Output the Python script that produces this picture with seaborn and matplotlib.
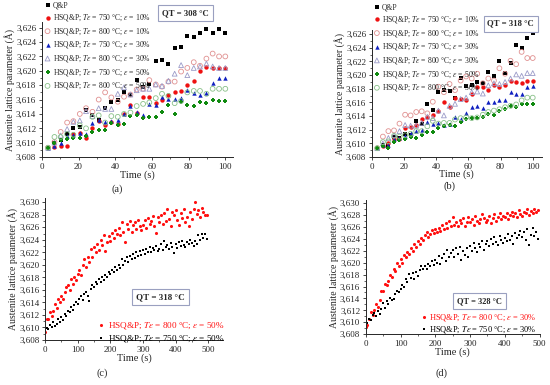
import numpy as np
import matplotlib
matplotlib.use("Agg")
import matplotlib.pyplot as plt
import seaborn as sns
from matplotlib.ticker import FuncFormatter, MultipleLocator

# ---------------- data: panels (a) and (b), time in s ----------------
t_ab = [3.4, 6.9, 10.3, 13.8, 17.2, 20.7, 24.1, 27.6, 31.0, 34.5, 37.9, 41.4, 44.8, 48.3,
        51.7, 55.2, 58.6, 62.1, 65.5, 69.0, 72.4, 75.9, 79.3, 82.8, 86.2, 89.7, 93.1, 96.6, 100.0]

a_qp = [3.6093, 3.6099, 3.6104, 3.6112, 3.6120, 3.6122, 3.6146, 3.6138, 3.6131, 3.6148,
        3.6157, 3.6159, 3.6171, 3.6166, 3.6187, 3.6177, 3.6182, 3.6213, 3.6215, 3.6210,
        3.6232, 3.6233, 3.6248, 3.6247, 3.6253, 3.6258, 3.6252, 3.6258, 3.6252]
a_750_10 = [3.6093, 3.6094, 3.6095, 3.6095, 3.6112, 3.6113, 3.6107, 3.6121, 3.6130, 3.6124,
            3.6129, 3.6126, 3.6140, 3.6152, 3.6142, 3.6164, 3.6164, 3.6155, 3.6160, 3.6167,
            3.6171, 3.6172, 3.6180, 3.6186, 3.6200, 3.6205, 3.6204, 3.6204, 3.6204]
a_800_10 = [3.6093, 3.6101, 3.6115, 3.6128, 3.6130, 3.6140, 3.6148, 3.6143, 3.6160, 3.6170,
            3.6163, 3.6157, 3.6164, 3.6167, 3.6174, 3.6175, 3.6187, 3.6181, 3.6178, 3.6185,
            3.6185, 3.6199, 3.6204, 3.6212, 3.6207, 3.6217, 3.6224, 3.6220, 3.6220]
a_750_30 = [3.6093, 3.6095, 3.6100, 3.6110, 3.6111, 3.6114, 3.6112, 3.6128, 3.6131, 3.6129,
            3.6130, 3.6131, 3.6140, 3.6151, 3.6143, 3.6138, 3.6154, 3.6153, 3.6164, 3.6161,
            3.6161, 3.6162, 3.6174, 3.6169, 3.6166, 3.6169, 3.6183, 3.6190, 3.6190]
a_800_30 = [3.6093, 3.6100, 3.6110, 3.6119, 3.6129, 3.6131, 3.6144, 3.6137, 3.6148, 3.6147,
            3.6147, 3.6168, 3.6177, 3.6167, 3.6173, 3.6175, 3.6175, 3.6181, 3.6179, 3.6186,
            3.6196, 3.6208, 3.6194, 3.6204, 3.6206, 3.6210, 3.6206, 3.6204, 3.6204]
a_750_50 = [3.6093, 3.6100, 3.6104, 3.6105, 3.6106, 3.6106, 3.6109, 3.6115, 3.6117, 3.6118,
            3.6128, 3.6125, 3.6126, 3.6137, 3.6138, 3.6134, 3.6136, 3.6136, 3.6143, 3.6152,
            3.6140, 3.6156, 3.6153, 3.6151, 3.6157, 3.6155, 3.6160, 3.6158, 3.6158]
a_800_50 = [3.6093, 3.6108, 3.6108, 3.6112, 3.6111, 3.6124, 3.6120, 3.6136, 3.6138, 3.6128,
            3.6137, 3.6136, 3.6140, 3.6142, 3.6151, 3.6154, 3.6156, 3.6162, 3.6168, 3.6165,
            3.6155, 3.6158, 3.6170, 3.6172, 3.6172, 3.6168, 3.6175, 3.6175, 3.6175]

b_qp = [3.6093, 3.6098, 3.6098, 3.6109, 3.6108, 3.6114, 3.6112, 3.6133, 3.6129, 3.6157,
        3.6149, 3.6176, 3.6178, 3.6177, 3.6166, 3.6196, 3.6184, 3.6185, 3.6190, 3.6188,
        3.6204, 3.6198, 3.6220, 3.6203, 3.6218, 3.6244, 3.6239, 3.6255, 3.6261]
b_750_10 = [3.6093, 3.6096, 3.6100, 3.6107, 3.6107, 3.6122, 3.6124, 3.6127, 3.6136, 3.6138,
            3.6141, 3.6148, 3.6160, 3.6153, 3.6167, 3.6165, 3.6163, 3.6172, 3.6182, 3.6182,
            3.6178, 3.6185, 3.6183, 3.6185, 3.6192, 3.6190, 3.6188, 3.6192, 3.6192]
b_800_10 = [3.6093, 3.6110, 3.6118, 3.6119, 3.6129, 3.6142, 3.6141, 3.6146, 3.6147, 3.6144,
            3.6161, 3.6183, 3.6175, 3.6187, 3.6178, 3.6192, 3.6198, 3.6195, 3.6202, 3.6188,
            3.6195, 3.6192, 3.6210, 3.6202, 3.6221, 3.6216, 3.6234, 3.6225, 3.6225]
b_750_30 = [3.6093, 3.6097, 3.6098, 3.6106, 3.6108, 3.6111, 3.6115, 3.6118, 3.6119, 3.6132,
            3.6128, 3.6130, 3.6127, 3.6128, 3.6138, 3.6136, 3.6145, 3.6153, 3.6155, 3.6152,
            3.6160, 3.6161, 3.6164, 3.6164, 3.6175, 3.6172, 3.6172, 3.6183, 3.6184]
b_800_30 = [3.6093, 3.6100, 3.6108, 3.6112, 3.6118, 3.6127, 3.6126, 3.6126, 3.6130, 3.6139,
            3.6137, 3.6148, 3.6141, 3.6155, 3.6158, 3.6165, 3.6167, 3.6175, 3.6176, 3.6173,
            3.6185, 3.6188, 3.6187, 3.6190, 3.6195, 3.6201, 3.6199, 3.6203, 3.6203]
b_750_50 = [3.6093, 3.6096, 3.6094, 3.6102, 3.6105, 3.6106, 3.6110, 3.6108, 3.6112, 3.6116,
            3.6117, 3.6122, 3.6126, 3.6127, 3.6126, 3.6131, 3.6136, 3.6137, 3.6137, 3.6138,
            3.6143, 3.6142, 3.6148, 3.6151, 3.6155, 3.6154, 3.6157, 3.6157, 3.6157]
b_800_50 = [3.6093, 3.6102, 3.6103, 3.6111, 3.6110, 3.6112, 3.6114, 3.6118, 3.6118, 3.6125,
            3.6133, 3.6129, 3.6130, 3.6130, 3.6135, 3.6137, 3.6138, 3.6137, 3.6138, 3.6142,
            3.6146, 3.6148, 3.6150, 3.6153, 3.6155, 3.6157, 3.6163, 3.6167, 3.6167]

# ---------------- data: panels (c) and (d), sampled every 5 s ----------------
t_cd = np.arange(0, 500, 5)

c_800_50 = [3.6092, 3.6114, 3.6113, 3.6125, 3.6118, 3.6126, 3.6137, 3.6131, 3.6146, 3.6140,
            3.6150, 3.6145, 3.6157, 3.6165, 3.6168, 3.6160, 3.6178, 3.6169, 3.6181, 3.6176,
            3.6186, 3.6192, 3.6184, 3.6199, 3.6210, 3.6196, 3.6213, 3.6205, 3.6226, 3.6212,
            3.6228, 3.6220, 3.6233, 3.6224, 3.6240, 3.6231, 3.6248, 3.6222, 3.6237, 3.6246,
            3.6238, 3.6251, 3.6243, 3.6255, 3.6249, 3.6259, 3.6247, 3.6268, 3.6252, 3.6236,
            3.6266, 3.6258, 3.6270, 3.6253, 3.6263, 3.6268, 3.6257, 3.6271, 3.6262, 3.6256,
            3.6264, 3.6272, 3.6259, 3.6275, 3.6266, 3.6270, 3.6278, 3.6262, 3.6251, 3.6276,
            3.6269, 3.6280, 3.6266, 3.6283, 3.6270, 3.6290, 3.6274, 3.6262, 3.6285, 3.6279,
            3.6288, 3.6271, 3.6264, 3.6283, 3.6275, 3.6289, 3.6268, 3.6276, 3.6262, 3.6285,
            3.6274, 3.6290, 3.6300, 3.6281, 3.6287, 3.6276, 3.6291, 3.6285, 3.6280, 3.6279]
c_750_50 = [3.6094, 3.6099, 3.6097, 3.6104, 3.6101, 3.6109, 3.6103, 3.6106, 3.6114, 3.6109,
            3.6117, 3.6112, 3.6122, 3.6118, 3.6127, 3.6124, 3.6133, 3.6128, 3.6136, 3.6140,
            3.6138, 3.6146, 3.6150, 3.6144, 3.6153, 3.6157, 3.6151, 3.6142, 3.6161, 3.6168,
            3.6164, 3.6173, 3.6170, 3.6177, 3.6172, 3.6180, 3.6176, 3.6184, 3.6180, 3.6188,
            3.6185, 3.6192, 3.6188, 3.6196, 3.6191, 3.6200, 3.6195, 3.6210, 3.6200, 3.6206,
            3.6212, 3.6205, 3.6214, 3.6209, 3.6218, 3.6211, 3.6220, 3.6214, 3.6222, 3.6216,
            3.6223, 3.6218, 3.6225, 3.6221, 3.6228, 3.6220, 3.6227, 3.6223, 3.6230, 3.6222,
            3.6226, 3.6233, 3.6224, 3.6238, 3.6228, 3.6232, 3.6226, 3.6235, 3.6229, 3.6219,
            3.6233, 3.6227, 3.6236, 3.6230, 3.6238, 3.6232, 3.6229, 3.6237, 3.6233, 3.6240,
            3.6235, 3.6230, 3.6238, 3.6233, 3.6247, 3.6240, 3.6249, 3.6243, 3.6250, 3.6241]

d_800_30 = [3.6092, 3.6096, 3.6106, 3.6118, 3.6113, 3.6120, 3.6131, 3.6125, 3.6137, 3.6152,
            3.6153, 3.6165, 3.6162, 3.6170, 3.6180, 3.6176, 3.6190, 3.6186, 3.6200, 3.6195,
            3.6207, 3.6200, 3.6213, 3.6209, 3.6218, 3.6214, 3.6224, 3.6219, 3.6231, 3.6226,
            3.6237, 3.6231, 3.6242, 3.6238, 3.6246, 3.6252, 3.6244, 3.6249, 3.6255, 3.6250,
            3.6257, 3.6251, 3.6259, 3.6254, 3.6263, 3.6256, 3.6266, 3.6259, 3.6270, 3.6262,
            3.6277, 3.6263, 3.6268, 3.6261, 3.6272, 3.6266, 3.6275, 3.6262, 3.6269, 3.6276,
            3.6268, 3.6274, 3.6263, 3.6279, 3.6270, 3.6266, 3.6273, 3.6281, 3.6275, 3.6268,
            3.6272, 3.6278, 3.6266, 3.6275, 3.6281, 3.6270, 3.6277, 3.6284, 3.6273, 3.6279,
            3.6276, 3.6283, 3.6274, 3.6280, 3.6286, 3.6278, 3.6284, 3.6276, 3.6289, 3.6281,
            3.6279, 3.6286, 3.6283, 3.6290, 3.6280, 3.6287, 3.6283, 3.6291, 3.6285, 3.6288]
d_750_30 = [3.6093, 3.6099, 3.6105, 3.6103, 3.6112, 3.6116, 3.6110, 3.6119, 3.6114, 3.6122,
            3.6132, 3.6124, 3.6136, 3.6131, 3.6140, 3.6137, 3.6139, 3.6147, 3.6153, 3.6150,
            3.6156, 3.6163, 3.6160, 3.6173, 3.6168, 3.6181, 3.6174, 3.6183, 3.6172, 3.6185,
            3.6178, 3.6188, 3.6194, 3.6190, 3.6195, 3.6189, 3.6198, 3.6194, 3.6203, 3.6197,
            3.6205, 3.6200, 3.6212, 3.6198, 3.6208, 3.6215, 3.6203, 3.6222, 3.6210, 3.6217,
            3.6221, 3.6209, 3.6224, 3.6215, 3.6226, 3.6205, 3.6220, 3.6213, 3.6225, 3.6210,
            3.6228, 3.6220, 3.6233, 3.6224, 3.6218, 3.6231, 3.6226, 3.6237, 3.6222, 3.6232,
            3.6236, 3.6228, 3.6240, 3.6231, 3.6243, 3.6235, 3.6229, 3.6245, 3.6238, 3.6233,
            3.6242, 3.6236, 3.6248, 3.6239, 3.6245, 3.6232, 3.6250, 3.6241, 3.6247, 3.6253,
            3.6244, 3.6251, 3.6238, 3.6256, 3.6230, 3.6247, 3.6259, 3.6245, 3.6252, 3.6240]

ylab = "Austenite lattice parameter (Å)"

# label text and style for the seven series in (a)/(b)
ab_labels = ["Q&P",
             r"HSQ&P; $T\varepsilon$ = 750 °C; $\varepsilon$ = 10%",
             r"HSQ&P; $T\varepsilon$ = 800 °C; $\varepsilon$ = 10%",
             r"HSQ&P; $T\varepsilon$ = 750 °C; $\varepsilon$ = 30%",
             r"HSQ&P; $T\varepsilon$ = 800 °C; $\varepsilon$ = 30%",
             r"HSQ&P; $T\varepsilon$ = 750 °C; $\varepsilon$ = 50%",
             r"HSQ&P; $T\varepsilon$ = 800 °C; $\varepsilon$ = 50%"]
ab_colors = ["black", "#ee1111", "#e09090", "#1020c0", "#9a9ac8", "#108a10", "#88c088"]
ab_markers = ["s", "o", "o", "^", "^", "P", "o"]
ab_filled = [True, True, False, True, False, True, False]

sns.set_style("ticks")
plt.rcParams["font.family"] = ["Liberation Serif", "DejaVu Serif"]
plt.rcParams["mathtext.fontset"] = "stix"

fig = plt.figure(figsize=(5.5, 3.85), dpi=100)
ax_a = fig.add_axes([0.076, 0.592, 0.347, 0.351])
ax_b = fig.add_axes([0.676, 0.592, 0.309, 0.330])
ax_c = fig.add_axes([0.082, 0.117, 0.324, 0.369])
ax_d = fig.add_axes([0.665, 0.132, 0.316, 0.348])

comma = FuncFormatter(lambda v, _: f"{v:.3f}".replace(".", ","))


def style_axes(ax, xmax, ymax, xmaj, xmin, xpad=0):
    sns.despine(ax=ax)
    ax.set_xlim(0, xmax)
    ax.set_ylim(3.608, ymax)
    ax.xaxis.set_major_locator(MultipleLocator(xmaj))
    ax.xaxis.set_minor_locator(MultipleLocator(xmin))
    ax.yaxis.set_major_locator(MultipleLocator(0.002))
    ax.yaxis.set_minor_locator(MultipleLocator(0.001))
    ax.yaxis.set_major_formatter(comma)
    ax.tick_params(which="major", length=2.5, width=0.6, labelsize=6.5, pad=1.5)
    ax.tick_params(which="minor", length=1.5, width=0.5)
    for s in ["left", "bottom"]:
        ax.spines[s].set_linewidth(0.7)
    ax.set_xlabel("Time (s)", fontsize=7.5, labelpad=xpad)
    ax.set_ylabel(ylab, fontsize=7, labelpad=1)


# panels (a) and (b)
for ax, series in [(ax_a, [a_qp, a_750_10, a_800_10, a_750_30, a_800_30, a_750_50, a_800_50]),
                   (ax_b, [b_qp, b_750_10, b_800_10, b_750_30, b_800_30, b_750_50, b_800_50])]:
    for vals, lab, col, mk, filled in zip(series, ab_labels, ab_colors, ab_markers, ab_filled):
        if filled:
            sns.scatterplot(x=t_ab, y=vals, ax=ax, marker=mk, color=col, s=10,
                            linewidth=0, label=lab)
        else:
            sns.scatterplot(x=t_ab, y=vals, ax=ax, marker=mk, facecolor="none",
                            edgecolor=col, s=12, linewidth=0.6, label=lab)

style_axes(ax_a, 104, 3.6268, 20, 10, xpad=-0.5)
style_axes(ax_b, 105.6, 3.6266, 20, 10, xpad=-1.0)

ax_a.legend(loc="upper left", bbox_to_anchor=(-0.01, 1.175), frameon=False, fontsize=5.5,
            labelspacing=0.35, handletextpad=0.1, borderaxespad=0, handlelength=1.2)
ax_b.legend(loc="upper left", bbox_to_anchor=(-0.015, 1.235), frameon=False, fontsize=5.5,
            labelspacing=0.35, handletextpad=0.1, borderaxespad=0, handlelength=1.2)

# panels (c) and (d)
sns.scatterplot(x=t_cd, y=c_800_50, ax=ax_c, marker="o", color="#ff1010", s=5, linewidth=0,
                label=r"HSQ&P; $T\varepsilon$ = 800 °C; $\varepsilon$ = 50%")
sns.scatterplot(x=t_cd, y=c_750_50, ax=ax_c, marker="s", color="black", s=4, linewidth=0,
                label=r"HSQ&P; $T\varepsilon$ = 750 °C; $\varepsilon$ = 50%")
sns.scatterplot(x=t_cd, y=d_800_30, ax=ax_d, marker="o", color="#ff1010", s=5, linewidth=0,
                label=r"HSQ&P; $T\varepsilon$ = 800 °C; $\varepsilon$ = 30%")
sns.scatterplot(x=t_cd, y=d_750_30, ax=ax_d, marker="s", color="black", s=4, linewidth=0,
                label=r"HSQ&P; $T\varepsilon$ = 750 °C; $\varepsilon$ = 30%")

style_axes(ax_c, 546, 3.6307, 100, 50)
style_axes(ax_d, 500, 3.6305, 100, 50)

for ax, pos, fs, sp in [(ax_c, (0.27, 0.165), 6.6, 0.22), (ax_d, (0.29, 0.19), 6.0, 0.12)]:
    leg = ax.legend(loc="upper left", bbox_to_anchor=pos, frameon=False, fontsize=fs,
                    labelspacing=sp, handletextpad=0.2, borderaxespad=0, handlelength=1.0)
    for txt, col in zip(leg.get_texts(), ["#ff1010", "black"]):
        txt.set_color(col)

# QT boxes
box = dict(boxstyle="square,pad=0.45", facecolor="white", edgecolor="#9aa0c0", linewidth=0.8)
ax_a.text(0.754, 1.063, "QT = 308 °C", transform=ax_a.transAxes, ha="center", va="center",
          fontsize=6.3, fontweight="bold", bbox=box)
ax_b.text(0.818, 1.05, "QT = 318 °C", transform=ax_b.transAxes, ha="center", va="center",
          fontsize=6.3, fontweight="bold", bbox=box)
ax_c.text(0.646, 0.30, "QT = 318 °C", transform=ax_c.transAxes, ha="center", va="center",
          fontsize=6.5, fontweight="bold", bbox=box)
ax_d.text(0.655, 0.246, "QT = 328 °C", transform=ax_d.transAxes, ha="center", va="center",
          fontsize=6.0, fontweight="bold", bbox=box)

# panel letters
fig.text(117 / 550, 1 - 189 / 385, "(a)", ha="center", va="center", fontsize=7.5)
fig.text(450 / 550, 1 - 186 / 385, "(b)", ha="center", va="center", fontsize=7.5)
fig.text(102 / 550, 1 - 373 / 385, "(c)", ha="center", va="center", fontsize=7.5)
fig.text(442 / 550, 1 - 373 / 385, "(d)", ha="center", va="center", fontsize=7.5)

fig.savefig("out.png", dpi=100)
